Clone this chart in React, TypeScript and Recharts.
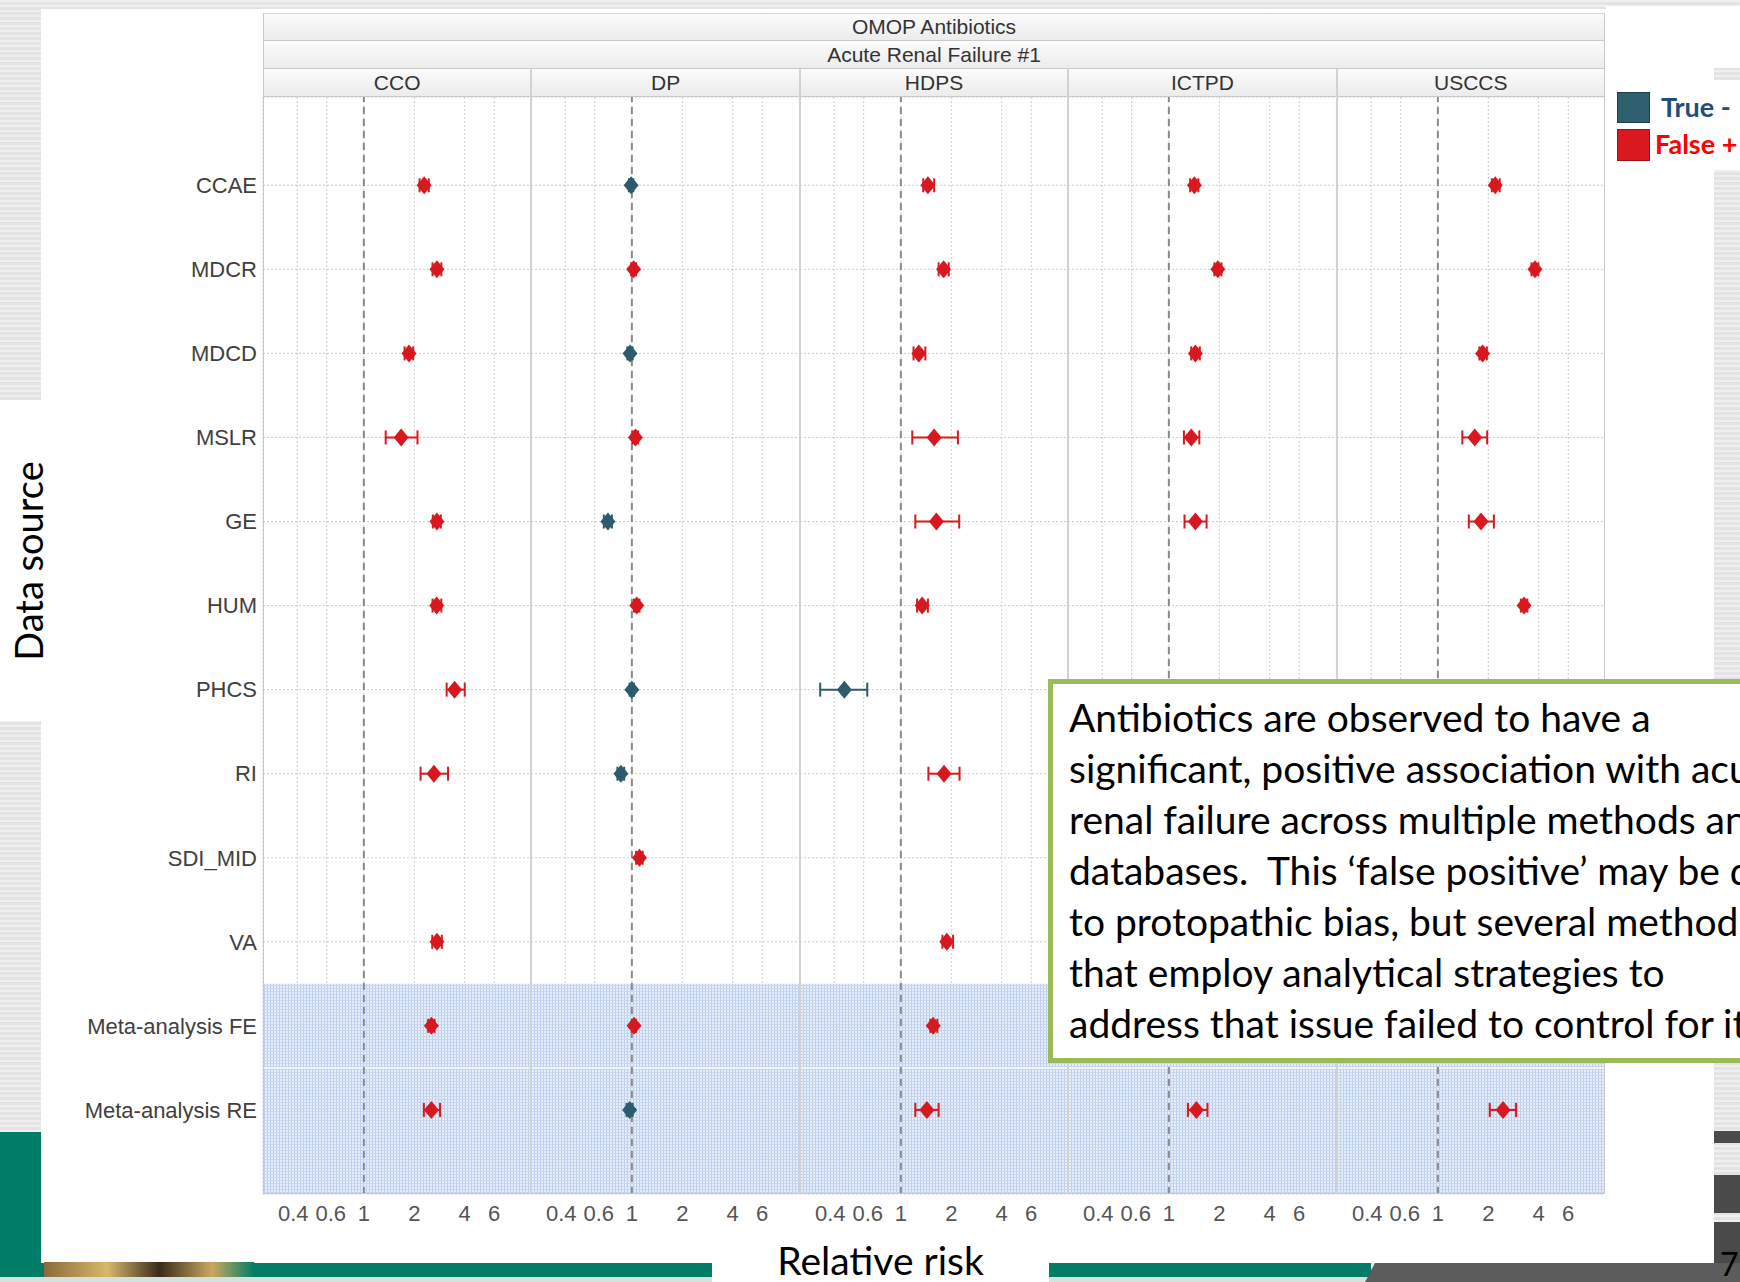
import React from "react";
import {
  CartesianGrid,
  ErrorBar,
  ReferenceArea,
  ReferenceLine,
  Scatter,
  ScatterChart,
  XAxis,
  YAxis,
} from "recharts";

// rows, top to bottom
const dataSources = [
  "CCAE",
  "MDCR",
  "MDCD",
  "MSLR",
  "GE",
  "HUM",
  "PHCS",
  "RI",
  "SDI_MID",
  "VA",
  "Meta-analysis FE",
  "Meta-analysis RE",
];
const methods = ["CCO", "DP", "HDPS", "ICTPD", "USCCS"];
const xTicks = [0.4, 0.6, 1, 2, 4, 6];

// relative risk + 95% CI per data source, "T" = true negative, "F" = false positive
const ccoRR = [2.29, 2.73, 1.86, 1.67, 2.73, 2.72, 3.48, 2.62, null, 2.73, 2.53, 2.53];
const ccoLo = [2.15, 2.57, 1.75, 1.35, 2.58, 2.57, 3.12, 2.18, null, 2.56, 2.42, 2.28];
const ccoHi = [2.44, 2.9, 1.97, 2.09, 2.88, 2.9, 4.0, 3.18, null, 2.92, 2.64, 2.85];
const ccoCls = ["F", "F", "F", "F", "F", "F", "F", "F", null, "F", "F", "F"];

const dpRR = [0.99, 1.025, 0.975, 1.05, 0.72, 1.07, 1.0, 0.86, 1.11, null, 1.03, 0.97];
const dpLo = [0.96, 0.99, 0.94, 1.01, 0.68, 1.03, 0.97, 0.82, 1.06, null, 1.0, 0.93];
const dpHi = [1.02, 1.06, 1.01, 1.09, 0.76, 1.11, 1.03, 0.9, 1.16, null, 1.06, 1.01];
const dpCls = ["T", "F", "T", "F", "T", "F", "T", "T", "F", null, "F", "T"];

const hdpsRR = [1.45, 1.8, 1.28, 1.58, 1.63, 1.34, 0.46, 1.81, null, 1.88, 1.56, 1.43];
const hdpsLo = [1.36, 1.68, 1.19, 1.17, 1.22, 1.25, 0.33, 1.46, null, 1.77, 1.5, 1.22];
const hdpsHi = [1.58, 1.93, 1.4, 2.19, 2.23, 1.45, 0.63, 2.24, null, 2.05, 1.65, 1.68];
const hdpsCls = ["F", "F", "F", "F", "F", "F", "T", "F", null, "F", "F", "F"];

const ictpdRR = [1.42, 1.96, 1.44, 1.36, 1.44, null, null, null, null, null, null, 1.46];
const ictpdLo = [1.34, 1.87, 1.36, 1.23, 1.24, null, null, null, null, null, null, 1.3];
const ictpdHi = [1.5, 2.06, 1.53, 1.52, 1.68, null, null, null, null, null, null, 1.7];
const ictpdCls = ["F", "F", "F", "F", "F", null, null, null, null, null, null, "F"];

const usccsRR = [2.2, 3.8, 1.85, 1.66, 1.81, 3.27, null, null, null, null, null, 2.45];
const usccsLo = [2.1, 3.62, 1.77, 1.4, 1.53, 3.13, null, null, null, null, null, 2.04];
const usccsHi = [2.34, 3.98, 1.96, 1.97, 2.16, 3.42, null, null, null, null, null, 2.93];
const usccsCls = ["F", "F", "F", "F", "F", "F", null, null, null, null, null, "F"];

const textLines = [
  "Antibiotics are observed to have a",
  "significant, positive association with acute",
  "renal failure across multiple methods and",
  "databases.  This \u2018false positive\u2019 may be due",
  "to protopathic bias, but several methods",
  "that employ analytical strategies to",
  "address that issue failed to control for it.",
];

const panels = [
  { rr: ccoRR, lo: ccoLo, hi: ccoHi, cls: ccoCls },
  { rr: dpRR, lo: dpLo, hi: dpHi, cls: dpCls },
  { rr: hdpsRR, lo: hdpsLo, hi: hdpsHi, cls: hdpsCls },
  { rr: ictpdRR, lo: ictpdLo, hi: ictpdHi, cls: ictpdCls },
  { rr: usccsRR, lo: usccsLo, hi: usccsHi, cls: usccsCls },
];

const rowTicks = dataSources.map((_, i) => i + 1);

const TRUE_NEG = "#2c5b6b";
const FALSE_POS = "#d7191f";
const GRID = "#cdcdcd";
const BORDER = "#c9c9c9";

const PLOT_LEFT = 263;
const PANEL_W = 268.4;
const PLOT_TOP = 97;
const PLOT_H = 1097;
const AXIS_H = 42;
const PLOT_RIGHT = PLOT_LEFT + PANEL_W * 5;

const sans = '"Liberation Sans", Arial, sans-serif';
const narrow = '"Liberation Sans Narrow", "Arial Narrow", "Liberation Sans", sans-serif';
const calibri = 'Lato, "Open Sans", sans-serif';

// tableau pushes the crowded low labels apart a little
const tickNudge: Record<string, number> = { "0.4": -4, "0.6": 4 };

function points(p: any, want: string) {
  const out: any[] = [];
  p.rr.forEach((v: number | null, i: number) => {
    if (v == null || p.cls[i] !== want) return;
    out.push({ row: i + 1, rr: v, err: [v - p.lo[i], p.hi[i] - v] });
  });
  return out;
}

const Diamond = (props: any) => {
  const { cx, cy, fill } = props;
  if (cx == null || cy == null) return null;
  return (
    <path
      d={`M${cx},${cy - 9}L${cx + 7.5},${cy}L${cx},${cy + 9}L${cx - 7.5},${cy}Z`}
      fill={fill}
    />
  );
};

const XTick = (props: any) => {
  const { x, y, payload } = props;
  const label = String(payload.value);
  return (
    <text
      x={x + (tickNudge[label] ?? 0)}
      y={y}
      dy="0.71em"
      textAnchor="middle"
      fontFamily={narrow}
      fontSize={22}
      fill="#555"
    >
      {label}
    </text>
  );
};

function Panel({ index }: { index: number }) {
  const p = panels[index];
  const first = index === 0;
  const yw = first ? PLOT_LEFT : 0;
  const left = first ? 0 : PLOT_LEFT + index * PANEL_W;
  const pid = `meta-${index}`;
  return (
    <div style={{ position: "absolute", left, top: PLOT_TOP }}>
      <ScatterChart
        width={PANEL_W + yw}
        height={PLOT_H + AXIS_H}
        margin={{ top: 0, right: 0, bottom: 0, left: 0 }}
      >
        <defs>
          <pattern id={pid} width="3" height="3" patternUnits="userSpaceOnUse">
            <rect width="3" height="3" fill="#e3ebf8" />
            <rect width="1" height="3" fill="#aec5ea" />
            <rect width="3" height="1" fill="#bed0ee" />
          </pattern>
        </defs>
        <ReferenceArea y1={10.5} y2={11.5} fill={`url(#${pid})`} fillOpacity={0.85} stroke="none" />
        <ReferenceArea y1={11.5} y2={13} fill={`url(#${pid})`} fillOpacity={0.85} stroke="none" />
        <ReferenceLine y={11.5} stroke="#ffffff" strokeOpacity={0.6} strokeWidth={2} />
        <CartesianGrid stroke={GRID} strokeDasharray="2 2" />
        <XAxis
          type="number"
          dataKey="rr"
          scale="log"
          domain={[0.25, 10]}
          allowDataOverflow
          ticks={xTicks}
          interval={0}
          tickLine={false}
          axisLine={false}
          tickMargin={5}
          height={AXIS_H}
          tick={<XTick />}
        />
        <YAxis
          type="number"
          dataKey="row"
          domain={[-0.05, 13]}
          allowDataOverflow
          reversed
          ticks={rowTicks}
          interval={0}
          hide={!first}
          width={yw}
          tickLine={false}
          axisLine={false}
          tickSize={0}
          tickMargin={6}
          tickFormatter={(v: number) => dataSources[v - 1] ?? ""}
          tick={{ fontSize: 22, fill: "#404040", fontFamily: sans }}
        />
        <ReferenceLine x={1} stroke="#8a8a8a" strokeDasharray="7 5" strokeWidth={2} />
        <Scatter
          name="True -"
          data={points(p, "T")}
          fill={TRUE_NEG}
          shape={Diamond}
          isAnimationActive={false}
        >
          <ErrorBar dataKey="err" direction="x" width={7} stroke={TRUE_NEG} strokeWidth={2} />
        </Scatter>
        <Scatter
          name="False +"
          data={points(p, "F")}
          fill={FALSE_POS}
          shape={Diamond}
          isAnimationActive={false}
        >
          <ErrorBar dataKey="err" direction="x" width={7} stroke={FALSE_POS} strokeWidth={2} />
        </Scatter>
      </ScatterChart>
    </div>
  );
}

const stripStyle: React.CSSProperties = {
  position: "absolute",
  height: 28,
  background: "linear-gradient(#fbfbfb, #ececec)",
  borderBottom: `1px solid ${BORDER}`,
  fontFamily: sans,
  fontSize: 21,
  color: "#333",
  lineHeight: "28px",
  textAlign: "center",
  boxSizing: "border-box",
};

const texture =
  "repeating-linear-gradient(0deg, rgba(255,255,255,0.45) 0px, rgba(255,255,255,0.45) 2px, rgba(0,0,0,0) 2px, rgba(0,0,0,0) 5px), #e3e3e3";

export default function App() {
  return (
    <div
      style={{
        position: "absolute",
        left: 0,
        top: 0,
        width: 1740,
        height: 1282,
        overflow: "hidden",
        background: texture,
      }}
    >
      {/* slide backdrop */}
      <div style={{ position: "absolute", left: 0, top: 1132, width: 41, height: 150, background: "#007d66" }} />
      <div style={{ position: "absolute", left: 0, top: 400, width: 41, height: 321, background: "#fff" }} />
      <div style={{ position: "absolute", left: 41, top: 9, width: 1673, height: 1254, background: "#fff" }} />
      <div style={{ position: "absolute", left: 41, top: 1263, width: 1330, height: 14, background: "#007d66" }} />
      <div
        style={{
          position: "absolute",
          left: 44,
          top: 1262,
          width: 210,
          height: 20,
          background: "linear-gradient(90deg, #8a6a3a, #d8b86a 30%, #3a2a1a 55%, #caa860 80%, #007d66)",
        }}
      />
      <div
        style={{
          position: "absolute",
          left: 1365,
          top: 1263,
          width: 375,
          height: 19,
          background: "#5c5c5c",
          clipPath: "polygon(10px 0, 100% 0, 100% 100%, 0 100%)",
        }}
      />
      <div style={{ position: "absolute", left: 0, top: 1277, width: 1365, height: 5, background: "#d3e2dc" }} />
      <div style={{ position: "absolute", left: 1714, top: 1131, width: 26, height: 12, background: "#4a4a4a" }} />
      <div style={{ position: "absolute", left: 1714, top: 1175, width: 26, height: 38, background: "#4a4a4a" }} />
      <div style={{ position: "absolute", left: 1714, top: 1222, width: 26, height: 41, background: "#4a4a4a" }} />
      <div
        style={{
          position: "absolute",
          left: 1720,
          top: 1246,
          height: 36,
          fontFamily: calibri,
          fontSize: 32,
          lineHeight: "36px",
          color: "#000",
        }}
      >
        7
      </div>

      {/* strips */}
      <div style={{ ...stripStyle, left: PLOT_LEFT, top: 13, width: PLOT_RIGHT - PLOT_LEFT }}>OMOP Antibiotics</div>
      <div style={{ ...stripStyle, left: PLOT_LEFT, top: 41, width: PLOT_RIGHT - PLOT_LEFT }}>
        Acute Renal Failure #1
      </div>
      {methods.map((m, i) => (
        <div
          key={m}
          style={{
            ...stripStyle,
            left: PLOT_LEFT + i * PANEL_W,
            top: 69,
            width: PANEL_W,
          }}
        >
          {m}
        </div>
      ))}

      {methods.map((m, i) => (
        <Panel key={m} index={i} />
      ))}

      {/* panel frame */}
      <div
        style={{
          position: "absolute",
          left: PLOT_LEFT,
          top: 13,
          width: PLOT_RIGHT - PLOT_LEFT,
          height: PLOT_TOP + PLOT_H - 13,
          border: `1px solid ${BORDER}`,
          borderTopColor: "#d6d6d6",
          boxSizing: "border-box",
          pointerEvents: "none",
        }}
      />
      {methods.slice(1).map((m, i) => (
        <div
          key={m}
          style={{
            position: "absolute",
            left: PLOT_LEFT + (i + 1) * PANEL_W - 1,
            top: 69,
            width: 2,
            height: PLOT_TOP + PLOT_H - 69,
            background: "#d2d2d2",
          }}
        />
      ))}

      {/* legend */}
      <div style={{ position: "absolute", left: 1606, top: 6, width: 134, height: 62, background: "#fff" }} />
      <div style={{ position: "absolute", left: 1606, top: 80, width: 134, height: 90, background: "#fff" }} />
      <div
        style={{
          position: "absolute",
          left: 1617,
          top: 92,
          width: 33,
          height: 31,
          background: "#2e5f6f",
          border: "1px solid #1f3f4a",
          boxSizing: "border-box",
        }}
      />
      <div
        style={{
          position: "absolute",
          left: 1617,
          top: 129,
          width: 33,
          height: 32,
          background: "#d9181f",
          border: "1px solid #a01016",
          boxSizing: "border-box",
        }}
      />
      <div
        style={{
          position: "absolute",
          left: 1661,
          top: 90,
          fontFamily: calibri,
          fontWeight: 700,
          fontSize: 27,
          lineHeight: "34px",
          color: "#1f4e79",
          whiteSpace: "nowrap",
        }}
      >
        True -
      </div>
      <div
        style={{
          position: "absolute",
          left: 1655,
          top: 127,
          fontFamily: calibri,
          fontWeight: 700,
          fontSize: 27,
          lineHeight: "34px",
          color: "#ff0000",
          whiteSpace: "nowrap",
        }}
      >
        False +
      </div>

      {/* axis titles */}
      <div
        style={{
          position: "absolute",
          left: 28,
          top: 561,
          transform: "translate(-50%, -50%) rotate(-90deg)",
          fontFamily: calibri,
          fontSize: 38,
          color: "#000",
          whiteSpace: "nowrap",
        }}
      >
        Data source
      </div>
      <div
        style={{
          position: "absolute",
          left: 712,
          top: 1239,
          width: 337,
          height: 43,
          background: "#fff",
          textAlign: "center",
          fontFamily: calibri,
          fontSize: 39,
          lineHeight: "43px",
          color: "#000",
        }}
      >
        Relative risk
      </div>

      {/* annotation */}
      <div
        style={{
          position: "absolute",
          left: 1048,
          top: 679,
          width: 760,
          height: 384,
          border: "5px solid #9bbb59",
          background: "#fff",
          boxSizing: "border-box",
          padding: "8px 0 0 16px",
          fontFamily: calibri,
          fontSize: 39,
          lineHeight: "51px",
          color: "#000",
          whiteSpace: "pre",
        }}
      >
        {textLines.join("\n")}
      </div>
    </div>
  );
}
